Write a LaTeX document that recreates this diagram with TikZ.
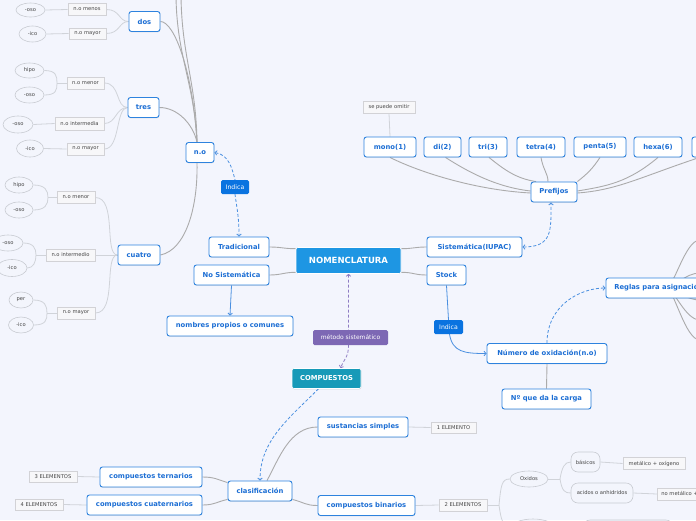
\documentclass[tikz,border=0pt]{standalone}
\usepackage{fontspec}
\setmainfont{DejaVu Sans}
\usetikzlibrary{shapes.geometric,arrows.meta,shadows}
\pgfdeclarelayer{back}
\pgfdeclarelayer{edges}
\pgfsetlayers{back,edges,main}
\definecolor{bgc}{HTML}{F3F5FD}
\definecolor{nb}{HTML}{2E83DE}
\definecolor{nt}{HTML}{1C6ED4}
\definecolor{mainf}{HTML}{1E96E3}
\definecolor{indf}{HTML}{0A73E0}
\definecolor{purf}{HTML}{7D68B4}
\definecolor{tealf}{HTML}{179AB8}
\definecolor{lg}{HTML}{ABABAB}
\definecolor{llg}{HTML}{D0D3D9}
\definecolor{sg}{HTML}{D2D2D6}
\definecolor{sf}{HTML}{F7F7F9}
\definecolor{st}{HTML}{454545}
\definecolor{eg}{HTML}{C8CBD2}
\definecolor{ef}{HTML}{F3F5FC}
\definecolor{dbc}{HTML}{4A8FE0}
\definecolor{dpc}{HTML}{8E7CC3}
\tikzset{
  wh/.style 2 args={minimum width=#1pt, minimum height=#2pt},
  bx/.style={draw=nb, line width=0.9pt, fill=white, rounded corners=2.5pt, text=nt,
    font=\fontsize{6.8}{8}\selectfont\bfseries, inner sep=0pt,
    drop shadow={opacity=0.18, shadow xshift=0.3pt, shadow yshift=-0.8pt}},
  mainbx/.style={fill=mainf, draw=white, line width=0.6pt, rounded corners=2pt, text=white,
    font=\fontsize{8.5}{10}\selectfont\bfseries, inner sep=0pt},
  tealbx/.style={fill=tealf, draw=white, line width=0.6pt, rounded corners=2pt, text=white,
    font=\fontsize{6.8}{8}\selectfont\bfseries, inner sep=0pt,
    drop shadow={opacity=0.25, shadow xshift=0.3pt, shadow yshift=-0.8pt}},
  ind/.style={fill=indf, rounded corners=1.5pt, text=white,
    font=\fontsize{6.2}{7}\selectfont, inner sep=0pt},
  purp/.style={fill=purf, rounded corners=1.5pt, text=white,
    font=\fontsize{6}{7}\selectfont, inner sep=0pt},
  sm/.style={draw=sg, line width=0.7pt, fill=sf, text=st,
    font=\fontsize{5.2}{6}\selectfont, inner sep=0pt},
  el/.style={ellipse, draw=eg, line width=0.6pt, fill=ef, text=st,
    font=\fontsize{5.2}{6}\selectfont, inner sep=0pt},
  rbx/.style={draw=eg, line width=0.6pt, fill=ef, text=st, rounded corners=7pt,
    font=\fontsize{5.2}{6}\selectfont, inner sep=0pt},
  gl/.style={draw=lg, line width=0.9pt},
  ll/.style={draw=llg, line width=0.8pt},
  tip/.tip={Straight Barb[length=2pt,width=4.5pt]},
  dbl/.style={draw=dbc, line width=0.8pt, dash pattern=on 3pt off 2pt},
  dpl/.style={draw=dpc, line width=0.8pt, dash pattern=on 3pt off 2pt},
  sbl/.style={draw=dbc, line width=0.8pt},
}
\begin{document}
\begin{tikzpicture}[x=1pt,y=-1pt]
\useasboundingbox (0,0) rectangle (696,520);
\clip (0,0) rectangle (696,520);
\begin{pgfonlayer}{back}
\fill[bgc] (0,0) rectangle (696,520);
\end{pgfonlayer}

% ---------- central ----------
\node[mainbx,wh={105}{26}] (nom) at (348.5,260.5) {NOMENCLATURA};
\node[bx,wh={60}{20}] (trad) at (239,247) {Tradicional};
\node[bx,wh={75}{20}] (nosis) at (231.5,275) {No Sistemática};
\node[bx,wh={126}{20}] (nomb) at (230,326) {nombres propios o comunes};
\node[bx,wh={95}{20}] (sist) at (474.5,247) {Sistemática(IUPAC)};
\node[bx,wh={39}{20}] (stock) at (446.5,275) {Stock};
\node[ind,wh={29}{14}] (ind2) at (448.5,327) {Indica};
\node[bx,wh={120}{20}] (num) at (547,353.5) {Número de oxidación(n.o)};
\node[bx,wh={89}{20}] (carga) at (546.5,399) {Nº que da la carga};
\node[bx,anchor=west,inner xsep=8.4pt,minimum height=20pt] (reglas) at (605.5,288) {Reglas para asignación del n.o};
\coordinate (rgc) at (666,288);
\coordinate (rg1) at (700,240);
\coordinate (rg2) at (700,273);
\coordinate (rg3) at (700,300);
\coordinate (rg4) at (700,320);
\coordinate (rg5) at (700,340);

% ---------- n.o branch ----------
\node[ind,wh={28}{14}] (ind1) at (235,187) {Indica};
\node[bx,wh={28}{20}] (no) at (200,152.5) {n.o};
\node[bx,wh={31}{20}] (dos) at (144.5,21.5) {dos};
\node[bx,wh={31}{20}] (tres) at (143.5,107.5) {tres};
\node[bx,wh={42}{20}] (cuatro) at (139,255) {cuatro};
\coordinate (up1) at (176,-3);
\coordinate (up2) at (181,-3);

\node[sm,wh={38}{12}] (dmen) at (87,9.5) {n.o menos};
\node[sm,wh={37}{11}] (dmay) at (87.5,33.5) {n.o mayor};
\node[el,wh={29}{14}] (doso) at (30.5,10) {-oso};
\node[el,wh={27}{16}] (dico) at (32.5,34) {-ico};

\node[sm,wh={37}{12}] (tmen) at (85.5,83) {n.o menor};
\node[el,wh={29}{15}] (thipo) at (29.5,70.5) {hipo};
\node[el,wh={29}{16}] (toso) at (29.5,95) {-oso};
\coordinate (tj) at (57,83);
\node[sm,wh={49}{13}] (tint) at (79.5,123.5) {n.o intermedia};
\node[el,wh={30}{17}] (toso2) at (18,124.5) {-oso};
\node[sm,wh={37}{12}] (tmay) at (85.5,149) {n.o mayor};
\node[el,wh={27}{17}] (tico) at (30,148.5) {-ico};

\node[sm,wh={38}{12}] (cmen) at (76,197.5) {n.o menor};
\node[el,wh={28}{16}] (chipo) at (19,185) {hipo};
\node[el,wh={28}{16}] (coso) at (19,210) {-oso};
\coordinate (cj1) at (48,197.5);
\node[sm,wh={49}{12}] (cint) at (70.5,255) {n.o intermedio};
\node[el,wh={30}{16}] (coso2) at (8,243) {-oso};
\node[el,wh={30}{17}] (cico) at (12,268) {-ico};
\coordinate (cj2) at (36,255);
\node[sm,wh={38}{12}] (cmay) at (76,313) {n.o mayor};
\node[el,wh={24}{16}] (cper) at (21,300) {per};
\node[el,wh={25}{16}] (cico2) at (21,325) {-ico};
\coordinate (cj3) at (47,313);

% ---------- prefijos ----------
\node[sm,wh={52}{12}] (omit) at (389,107) {se puede omitir};
\node[bx,wh={52}{20}] (mono) at (390,147) {mono(1)};
\node[bx,wh={37}{20}] (di) at (442.5,147) {di(2)};
\node[bx,wh={38}{20}] (tri) at (488,147) {tri(3)};
\node[bx,wh={48}{20}] (tetra) at (541,147) {tetra(4)};
\node[bx,wh={52}{20}] (penta) at (600,147) {penta(5)};
\node[bx,wh={48}{20}] (hexa) at (658,147) {hexa(6)};
\node[bx,wh={50}{20},anchor=west] (hepta) at (691.5,147) {hepta(7)};
\node[bx,wh={46}{20}] (pref) at (554,192) {Prefijos};

% ---------- compuestos ----------
\node[purp,wh={75}{15}] (met) at (350.5,337.5) {método sistemático};
\node[tealbx,wh={69}{20}] (comp) at (326.5,378.5) {COMPUESTOS};
\node[bx,wh={64}{20}] (clas) at (260,491) {clasificación};
\node[bx,wh={90}{20}] (sust) at (363,427) {sustancias simples};
\node[sm,wh={45}{11}] (e1) at (453.5,427.5) {1 ELEMENTO};
\node[bx,wh={102}{20}] (tern) at (151,477) {compuestos ternarios};
\node[sm,wh={48}{11}] (e3) at (53,476.5) {3 ELEMENTOS};
\node[bx,wh={115}{20}] (cuat) at (144.5,505) {compuestos cuaternarios};
\node[sm,wh={48}{11}] (e4) at (39,504.5) {4 ELEMENTOS};
\node[bx,wh={97}{20}] (bin) at (366.5,505.5) {compuestos binarios};
\node[sm,wh={48}{12}] (e2) at (463,505) {2 ELEMENTOS};
\node[el,wh={38}{16}] (oxi) at (529,479) {Oxidos};
\node[rbx,wh={29}{20}] (bas) at (585.5,462) {básicos};
\node[sm,wh={62}{12}] (metox) at (654,463.5) {metálico + oxígeno};
\node[rbx,wh={62}{20}] (acid) at (602,493) {acidos o anhidridos};
\node[sm,anchor=west,inner xsep=4pt,minimum height=12pt] (nmet) at (657,494) {no metálico + oxígeno};
\node[el,wh={44}{18}] (hid) at (533,528) {};
\node[rbx,wh={90}{20}] (hidx) at (628,530) {};
\coordinate (e2j) at (499,505);
\coordinate (oj) at (560,479);

% ================= edges =================
\begin{pgfonlayer}{edges}
% central
\draw[gl] (trad.east) .. controls +(12,0) and +(-12,0) .. ([yshift=-1.5pt]nom.north west);
\draw[gl] (nosis.east) .. controls +(12,0) and +(-12,0) .. ([yshift=1.5pt]nom.south west);
\draw[gl] (sist.west) .. controls +(-12,0) and +(12,0) .. ([yshift=-1.5pt]nom.north east);
\draw[gl] (stock.west) .. controls +(-12,0) and +(12,0) .. ([yshift=1.5pt]nom.south east);
\draw[sbl,-tip] (nosis.south) -- (nomb.north);
\draw[sbl] (stock.south) -- (ind2.north);
\draw[sbl,-tip] ([xshift=1pt]ind2.south) .. controls +(3,18) and +(-22,0) .. (num.west);
\draw[dbl,-tip] (num.north) .. controls +(0,-38) and +(-25,0) .. (reglas.west);
\draw[gl] (num.south) -- (carga.north);
\foreach \c in {rg1,rg2,rg3,rg4,rg5}{
  \draw[gl] (rgc) .. controls +(8,0) and +(-15,0) .. (\c);
}
% n.o
\draw[dbl,tip-tip] (no.east) .. controls +(14,2) and +(-3,-12) .. (ind1.north)
   -- (ind1.south) .. controls +(2,15) and +(0,-20) .. (trad.north);
\draw[gl] (dos.east) .. controls +(14,0) and +(-4,-70) .. ([xshift=-3pt]no.north);
\draw[gl] (tres.east) .. controls +(18,0) and +(-4,-18) .. ([xshift=-3pt]no.north);
\draw[gl] (cuatro.east) .. controls +(25,-5) and +(1,45) .. ([xshift=-3pt]no.south);
\draw[gl] ([xshift=-3pt]no.north) .. controls +(-3,-60) and +(1,60) .. (up1);
\draw[gl] ([xshift=-3pt]no.north) .. controls +(-1,-60) and +(1,60) .. (up2);
% dos children
\draw[ll] (doso.east) -- (dmen.west);
\draw[ll] (dico.east) -- (dmay.west);
\draw[ll] (dmen.east) .. controls +(14,0) and +(-10,0) .. (dos.west);
\draw[ll] (dmay.east) .. controls +(14,0) and +(-10,0) .. (dos.west);
% tres children
\draw[ll] (thipo.east) .. controls +(12,0) and +(0,-7) .. (tj);
\draw[ll] (toso.east) .. controls +(12,0) and +(0,7) .. (tj);
\draw[ll] (tj) -- (tmen.west);
\draw[ll] (toso2.east) -- (tint.west);
\draw[ll] (tico.east) -- (tmay.west);
\draw[ll] (tmen.east) .. controls +(16,0) and +(-12,0) .. (tres.west);
\draw[ll] (tint.east) .. controls +(12,0) and +(-12,0) .. (tres.west);
\draw[ll] (tmay.east) .. controls +(16,0) and +(-12,0) .. (tres.west);
% cuatro children
\draw[ll] (chipo.east) .. controls +(12,0) and +(0,-7) .. (cj1);
\draw[ll] (coso.east) .. controls +(12,0) and +(0,7) .. (cj1);
\draw[ll] (cj1) -- (cmen.west);
\draw[ll] (coso2.east) .. controls +(10,0) and +(0,-7) .. (cj2);
\draw[ll] (cico.east) .. controls +(6,0) and +(0,7) .. (cj2);
\draw[ll] (cj2) -- (cint.west);
\draw[ll] (cper.east) .. controls +(12,0) and +(0,-7) .. (cj3);
\draw[ll] (cico2.east) .. controls +(12,0) and +(0,7) .. (cj3);
\draw[ll] (cj3) -- (cmay.west);
\draw[ll] (cmen.east) .. controls +(22,0) and +(-14,0) .. (cuatro.west);
\draw[ll] (cint.east) -- (cuatro.west);
\draw[ll] (cmay.east) .. controls +(22,0) and +(-14,0) .. (cuatro.west);
% prefijos
\draw[ll] (omit.south) -- (mono.north);
\draw[gl] (mono.south) .. controls +(30,15) and +(-55,-3) .. ([yshift=-1pt]pref.west);
\draw[gl] ([xshift=3pt]di.south) .. controls +(22,14) and +(-35,-4) .. ([yshift=1pt]pref.west);
\draw[gl] ([xshift=1pt]tri.south) .. controls +(15,12) and +(-20,-3) .. ([xshift=-18pt]pref.north);
\draw[gl] (tetra.south) .. controls +(2,12) and +(0,-8) .. ([xshift=-6pt]pref.north);
\draw[gl] (penta.south) .. controls +(-8,12) and +(10,-8) .. (pref.north east);
\draw[gl] (hexa.south) .. controls +(-30,25) and +(30,-5) .. ([yshift=1pt]pref.east);
\draw[gl] ([xshift=8pt]hepta.south west) .. controls +(-60,20) and +(40,-3) .. ([yshift=-1pt]pref.east);
\draw[dbl,tip-tip] (sist.east) .. controls +(30,0) and +(0,28) .. ([xshift=-3pt]pref.south);
% compuestos
\draw[dpl,tip-tip] (nom.south) -- (nom.south |- met.south)
   .. controls +(0,12) and +(4,-10) .. ([xshift=14pt]comp.north);
\draw[dbl,-tip] ([xshift=-8pt]comp.south) .. controls +(-30,30) and +(0,-40) .. (clas.north);
\draw[gl] ([xshift=7pt]clas.north) .. controls +(12,-22) and +(-28,0) .. (sust.west);
\draw[gl] ([yshift=2pt]clas.south east) .. controls +(12,3) and +(-12,0) .. (bin.west);
\draw[gl] (tern.east) .. controls +(12,0) and +(-10,-3) .. ([yshift=-2pt]clas.north west);
\draw[gl] (cuat.east) .. controls +(12,0) and +(-10,2) .. ([yshift=2pt]clas.south west);
\draw[ll] (e3.east) -- (tern.west);
\draw[ll] (e4.east) -- (cuat.west);
\draw[ll] (sust.east) -- (e1.west);
\draw[ll] (bin.east) -- (e2.west);
\draw[ll] (e2.east) -- (e2j);
\draw[ll] (e2j) .. controls +(2,-20) and +(-8,0) .. (oxi.west);
\draw[ll] (e2j) .. controls +(2,15) and +(-8,-2) .. (hid.west);
\draw[ll] (oxi.east) -- (oj);
\draw[ll] (oj) .. controls +(2,-12) and +(-6,0) .. (bas.west);
\draw[ll] (oj) .. controls +(2,12) and +(-6,0) .. (acid.west);
\draw[ll] (bas.east) -- (metox.west);
\draw[ll] (acid.east) -- (nmet.west);
\end{pgfonlayer}
\end{tikzpicture}
\end{document}
